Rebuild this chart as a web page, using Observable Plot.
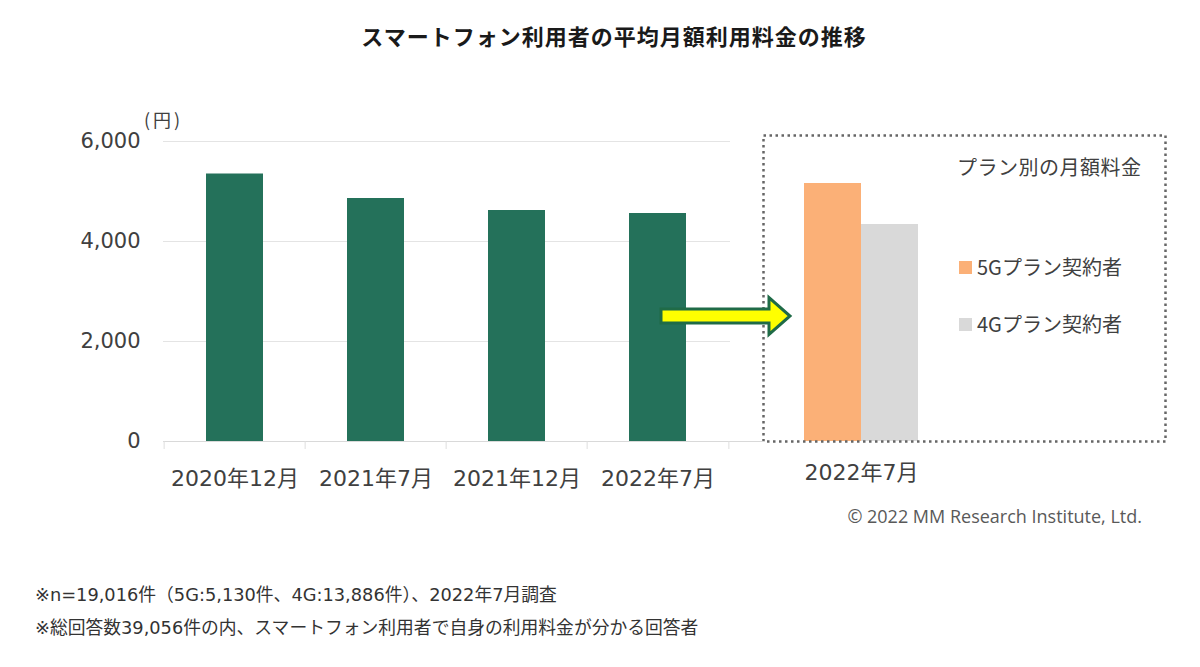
<!DOCTYPE html>
<html>
<head>
<meta charset="utf-8">
<script src="https://cdn.jsdelivr.net/npm/d3@7"></script>
<script src="https://cdn.jsdelivr.net/npm/@observablehq/plot@0.6"></script>
<style>
  body { margin: 0; background: #fff; }
  #root { position: relative; width: 1200px; height: 667px; overflow: hidden; background: #fff;
          font-family: "Noto Sans CJK JP", "Noto Sans", sans-serif; color: #404040; }
  .abs { position: absolute; white-space: nowrap; line-height: 1; }
  #title { left: 0; top: 24px; width: 1228px; text-align: center; font-size: 22px; font-weight: bold;
           color: #1a1a1a; letter-spacing: 1px; }
  #unit { left: 144px; top: 110px; font-size: 18px; color: #404040; letter-spacing: 3px; }
  #legtitle { left: 957px; top: 157px; font-size: 20px; color: #404040; letter-spacing: 0.5px; }
  .sw { position: absolute; width: 13px; height: 13px; }
  .legtxt { font-size: 20px; color: #404040; }
  #copy { right: 58px; top: 507px; font-size: 18px; color: #595959; font-family: "Open Sans", sans-serif; }
  .note { left: 35px; font-size: 17.8px; color: #333; font-family: "DejaVu Sans", "Noto Sans CJK JP", sans-serif; }
  #leftplot { position: absolute; left: 0; top: 90px; width: 800px; z-index: 2; }
  #rightplot { position: absolute; left: 758px; top: 90px; width: 412px; z-index: 1; }
</style>
</head>
<body>
<div id="root">
  <div id="title" class="abs">スマートフォン利用者の平均月額利用料金の推移</div>
  <div id="unit" class="abs">(円)</div>
  <div id="rightplot"></div>
  <div id="leftplot"></div>
  <div id="legtitle" class="abs">プラン別の月額料金</div>
  <div id="leg"></div>
  <div id="copy" class="abs">© 2022 MM Research Institute, Ltd.</div>
  <div class="abs note" style="top:586px">※n=19,016件（5G:5,130件、4G:13,886件）、2022年7月調査</div>
  <div class="abs note" style="top:619px">※総回答数39,056件の内、スマートフォン利用者で自身の利用料金が分かる回答者</div>
</div>
<script>
// ---- data ----
const periods = ["2020年12月", "2021年7月", "2021年12月", "2022年7月"];
const avgFee = [5350, 4860, 4620, 4560];
const plans = ["5Gプラン契約者", "4Gプラン契約者"];
const planFee = [5160, 4340];
const planPeriod = "2022年7月";
const yTicks = [0, 2000, 4000, 6000];
const arrowLevel = 2500;

// ---- styles ----
const green = "#24715a";
const planColors = ["#fbb077", "#d9d9d9"];

const avgData = periods.map((p, i) => ({period: p, fee: avgFee[i]}));
const planData = plans.map((p, i) => ({plan: p, fee: planFee[i]}));

// arrow annotation (render-function mark)
function arrowMark(index, scales, values, dimensions) {
  const cy = scales.y(arrowLevel);
  const x0 = scales.x(periods[periods.length - 1]) + 32;
  const tip = dimensions.width - dimensions.marginRight + 60;
  const hx = tip - 21;
  const sh = 7, hh = 18.5;
  const d = `M${x0},${cy - sh}L${hx},${cy - sh}L${hx},${cy - hh}L${tip},${cy}L${hx},${cy + hh}L${hx},${cy + sh}L${x0},${cy + sh}Z`;
  const g = d3.create("svg:g");
  g.append("path").attr("d", d).attr("fill", "#ffff00").attr("stroke", "#1f6b47")
    .attr("stroke-width", 3).attr("stroke-linejoin", "miter");
  return g.node();
}

const step = (730 - 163) / periods.length;

const left = Plot.plot({
  width: 800, height: 450,
  marginLeft: 163, marginRight: 70, marginTop: 51, marginBottom: 99,
  style: {background: "transparent", overflow: "visible", color: "#404040",
          fontFamily: "'DejaVu Sans', 'Noto Sans CJK JP', sans-serif"},
  x: {domain: periods, paddingInner: 0.593, paddingOuter: 0.2965, axis: null},
  y: {domain: [0, 6000], axis: null},
  marks: [
    Plot.gridY(yTicks, {stroke: "#e4e4e4", strokeOpacity: 1}),
    Plot.ruleY([0], {stroke: "#d9d9d9", insetRight: -35}),
    Plot.ruleX(periods, {x: d => d, y1: 0, y2: -160, dx: -step / 2, stroke: "#dedede"}),
    Plot.ruleX(periods.slice(-1), {x: d => d, y1: 0, y2: -160, dx: step / 2, stroke: "#dedede"}),
    Plot.axisY(yTicks, {tickSize: 0, tickPadding: 23, tickFormat: d3.format(","), fontSize: 21, label: null}),
    Plot.axisX({tickSize: 0, tickPadding: 29, fontSize: 22, label: null}),
    Plot.barY(avgData, {x: "period", y: "fee", fill: green}),
    arrowMark
  ]
});
document.getElementById("leftplot").append(left);

const bw = (160 - 46) / plans.length;
const right = Plot.plot({
  width: 412, height: 450,
  marginLeft: 5, marginRight: 5, marginTop: 51, marginBottom: 99,
  style: {background: "transparent", overflow: "visible", color: "#404040",
          fontFamily: "'DejaVu Sans', 'Noto Sans CJK JP', sans-serif"},
  x: {domain: plans, range: [46, 160], padding: 0, axis: null},
  y: {domain: [0, 6000], axis: null},
  color: {domain: plans, range: planColors},
  marks: [
    Plot.barY(planData, {x: "plan", y: "fee", fill: "plan"}),
    Plot.frame({stroke: "#666", strokeWidth: 2.5, strokeDasharray: "2.5,3.5", insetTop: -6}),
    Plot.text([planPeriod], {x: () => plans[1], frameAnchor: "bottom", dy: 38, dx: -bw / 2,
                             fontSize: 22, fill: "#404040"})
  ]
});
document.getElementById("rightplot").append(right);

// legend (HTML, colors from the same scale)
const leg = document.getElementById("leg");
const legTops = [267, 324];
plans.forEach((p, i) => {
  const sw = document.createElement("div");
  sw.className = "sw";
  sw.style.left = "959px"; sw.style.top = (legTops[i] - 6.5) + "px";
  sw.style.background = right.scale("color").apply(p);
  leg.append(sw);
  const t = document.createElement("div");
  t.className = "abs legtxt";
  t.style.left = "977px"; t.style.top = (legTops[i] - 10) + "px";
  t.textContent = p;
  leg.append(t);
});
</script>
</body>
</html>
